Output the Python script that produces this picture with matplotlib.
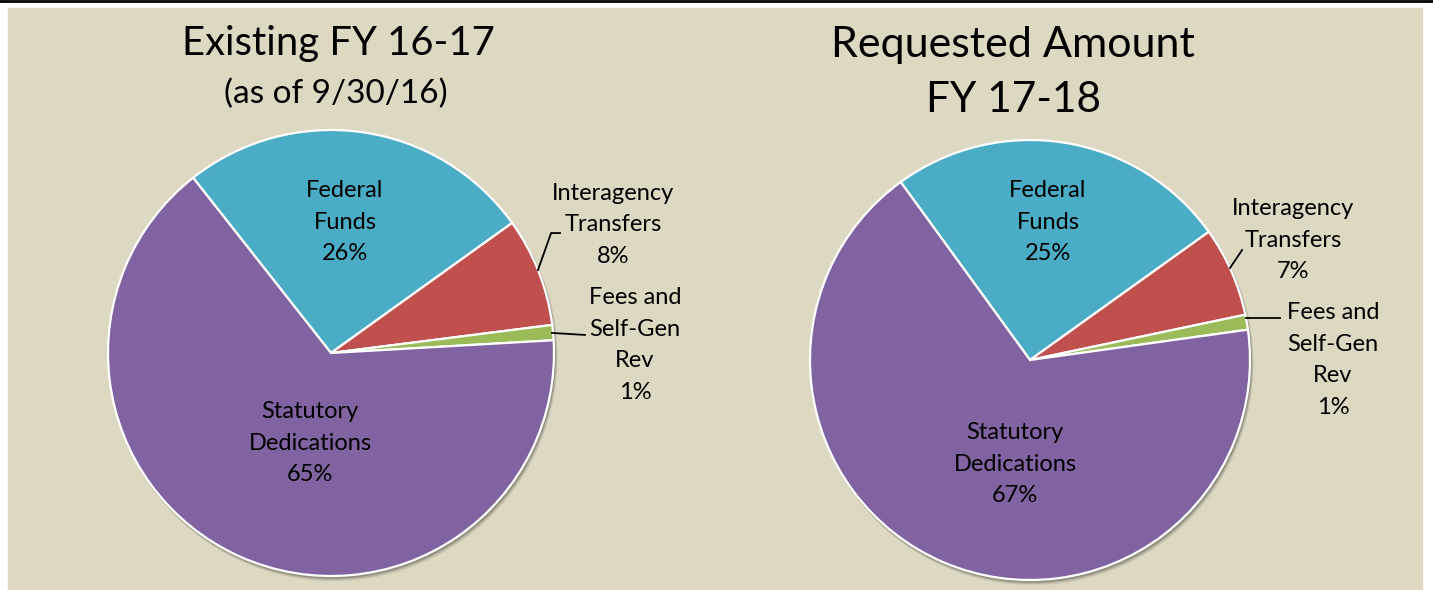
import numpy as np
import matplotlib.pyplot as plt
from matplotlib.patches import Rectangle, Circle

# data
sources = ["Federal\nFunds", "Interagency\nTransfers", "Fees and\nSelf-Gen\nRev", "Statutory\nDedications"]
existing_pct = [25.7, 7.9, 1.1, 65.3]
requested_pct = [25.1, 6.6, 1.1, 67.2]
colors = ["#4BACC6", "#C0504D", "#9BBB59", "#8064A2"]

W, H = 1433, 590
plt.rcParams['font.family'] = ['Lato', 'DejaVu Sans']

fig = plt.figure(figsize=(W / 100, H / 100), dpi=100)
ax = fig.add_axes([0, 0, 1, 1])

# background panel like the slide
ax.add_patch(Rectangle((0, 0), W, H, color="white", zorder=0))
ax.add_patch(Rectangle((8, 0), 1414, H - 8, color="#DDD8C2", zorder=0))
ax.plot([0, W], [H - 0.5, H - 0.5], color="black", lw=2, zorder=1)


def draw_pie(vals, cx, cy, r, start, label_pos, leaders):
    # soft shadow under the pie
    for k, a in [(4, 0.08), (3, 0.12), (2, 0.18)]:
        ax.add_patch(Circle((cx + k * 0.6, cy - k), r + k * 0.3, color="black",
                            alpha=a, lw=0, zorder=1))
    ax.pie(vals, colors=colors, startangle=start, counterclock=False,
           center=(cx, cy), radius=r,
           wedgeprops=dict(edgecolor="white", linewidth=1.6, zorder=2))
    for name, v, (fx, fy) in zip(sources, vals, label_pos):
        ax.text(cx + fx * r, cy + fy * r, f"{name}\n{v:.0f}%", ha="center",
                va="center", fontsize=17, linespacing=1.62, color="black", zorder=5)
    for pts in leaders:
        xs = [cx + p[0] * r for p in pts]
        ys = [cy + p[1] * r for p in pts]
        ax.plot(xs, ys, color="black", lw=1.3, zorder=4)


draw_pie(existing_pct, 331, H - 353, 223, 128.2,
         [(0.063, 0.587), (1.265, 0.574), (1.363, 0.036), (-0.094, -0.404)],
         [[(0.928, 0.372), (0.987, 0.538), (1.027, 0.538)],
          [(0.991, 0.09), (1.139, 0.081)]])
draw_pie(requested_pct, 1030, H - 360, 220, 126.0,
         [(0.082, 0.627), (1.195, 0.545), (1.377, 0.0), (-0.068, -0.473)],
         [[(0.909, 0.418), (0.964, 0.5)],
          [(0.982, 0.191), (1.136, 0.191)]])

ax.text(338, H - 44, "Existing FY 16-17", ha="center", va="center", fontsize=28.8)
ax.text(336, H - 94, "(as of 9/30/16)", ha="center", va="center", fontsize=24)
ax.text(1013, H - 45, "Requested Amount", ha="center", va="center", fontsize=31)
ax.text(1014, H - 100, "FY 17-18", ha="center", va="center", fontsize=30.5)

ax.set_xlim(0, W)
ax.set_ylim(0, H)
ax.set_aspect("auto")
ax.axis("off")

fig.savefig("out.png", dpi=100)
